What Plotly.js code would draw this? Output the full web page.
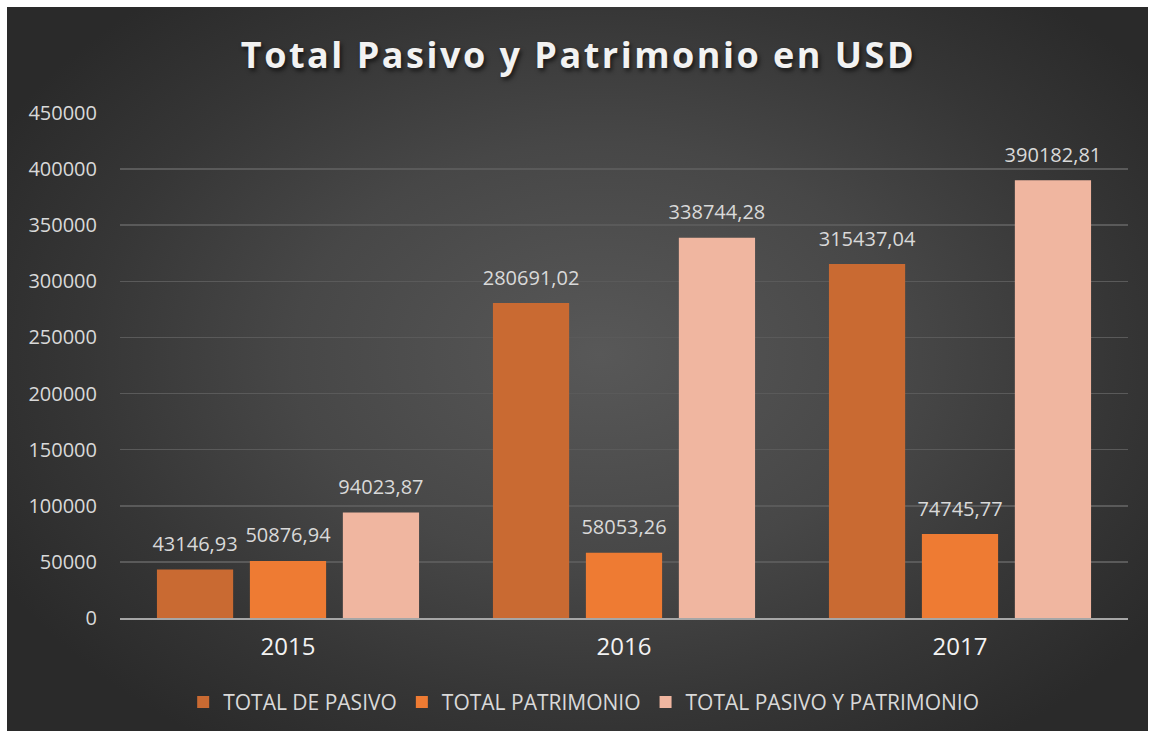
<!DOCTYPE html>
<html>
<head>
<meta charset="utf-8">
<script src="https://cdn.plot.ly/plotly-3.0.1.min.js"></script>
<style>
  html, body { margin:0; padding:0; background:#ffffff; }
  #wrap { position:relative; width:1150px; height:738px; background:#ffffff; overflow:hidden; }
  #bg { position:absolute; left:7px; top:7px; width:1141px; height:724px;
        background: radial-gradient(ellipse 60% 65% at 52% 48%, #585858 0%, #474747 45%, #363636 75%, #2a2a2a 100%); }
  #chart { position:absolute; left:0; top:0; width:1150px; height:738px; }
  .gtitle { letter-spacing: 2.5px; text-shadow: 2px 3px 4px rgba(0,0,0,0.6); }
</style>
</head>
<body>
<div id="wrap">
  <div id="bg"></div>
  <div id="chart"></div>
</div>
<script>
const categories = ["2015", "2016", "2017"];
const totalDePasivo = [43146.93, 280691.02, 315437.04];
const totalPatrimonio = [50876.94, 58053.26, 74745.77];
const totalPasivoYPatrimonio = [94023.87, 338744.28, 390182.81];
const seriesNames = ["TOTAL DE PASIVO", "TOTAL PATRIMONIO", "TOTAL PASIVO Y PATRIMONIO"];
const yTicks = [0, 50000, 100000, 150000, 200000, 250000, 300000, 350000, 400000, 450000];

function fmt(v) {
  return v.toFixed(2).replace('.', ',');
}

const colors = ["#c96a32", "#ee7b33", "#f0b6a0"];
const allSeries = [totalDePasivo, totalPatrimonio, totalPasivoYPatrimonio];

const barTraces = allSeries.map((vals, i) => ({
  type: 'bar',
  name: seriesNames[i],
  x: categories,
  y: vals,
  offsetgroup: 'g' + i,
  marker: { color: colors[i], line: { width: 0 } },
  hoverinfo: 'skip'
}));

const labelTraces = allSeries.map((vals, i) => ({
  type: 'scatter',
  mode: 'markers+text',
  x: categories,
  y: vals,
  offsetgroup: 'g' + i,
  text: vals.map(fmt),
  textposition: 'top center',
  cliponaxis: false,
  textfont: { family: 'Open Sans, sans-serif', size: 20, color: '#d9d9d9' },
  marker: { size: 20, opacity: 0 },
  showlegend: false,
  hoverinfo: 'skip'
}));

const layout = {
  width: 1150,
  height: 738,
  paper_bgcolor: 'rgba(0,0,0,0)',
  plot_bgcolor: 'rgba(0,0,0,0)',
  margin: { l: 120, r: 22, t: 113, b: 120 },
  barmode: 'group',
  bargap: 0.17,
  bargroupgap: 0.18,
  scattermode: 'group',
  scattergap: 0.17,
  title: {
    text: 'Total Pasivo y Patrimonio en USD',
    font: { family: 'Open Sans, sans-serif', size: 36, color: '#f2f2f2', weight: 'bold' },
    x: 0.503, xanchor: 'center',
    y: 0.925, yanchor: 'middle'
  },
  font: { family: 'Open Sans, sans-serif', color: '#d9d9d9' },
  xaxis: {
    type: 'category',
    showgrid: false,
    showline: true,
    linecolor: '#a6a6a6',
    linewidth: 2,
    ticks: '',
    tickfont: { family: 'Open Sans, sans-serif', size: 24, color: '#f2f2f2' },
    ticklabelstandoff: 6
  },
  yaxis: {
    range: [0, 450000],
    tickvals: yTicks,
    ticktext: yTicks.map(String),
    showgrid: true,
    gridcolor: '#5a5a5a',
    gridwidth: 1.5,
    zeroline: false,
    showline: false,
    ticks: '',
    tickfont: { family: 'Open Sans, sans-serif', size: 20, color: '#d9d9d9' },
    ticklabelstandoff: 22
  },
  legend: {
    orientation: 'h',
    x: 0.46, xanchor: 'center',
    y: -0.167, yanchor: 'middle',
    font: { family: 'Open Sans, sans-serif', size: 21, color: '#d9d9d9' },
    itemwidth: 30,
    tracegroupgap: 0,
    bgcolor: 'rgba(0,0,0,0)'
  },
  showlegend: true
};

Plotly.newPlot('chart', barTraces.concat(labelTraces), layout, { displayModeBar: false, staticPlot: true });
</script>
</body>
</html>
